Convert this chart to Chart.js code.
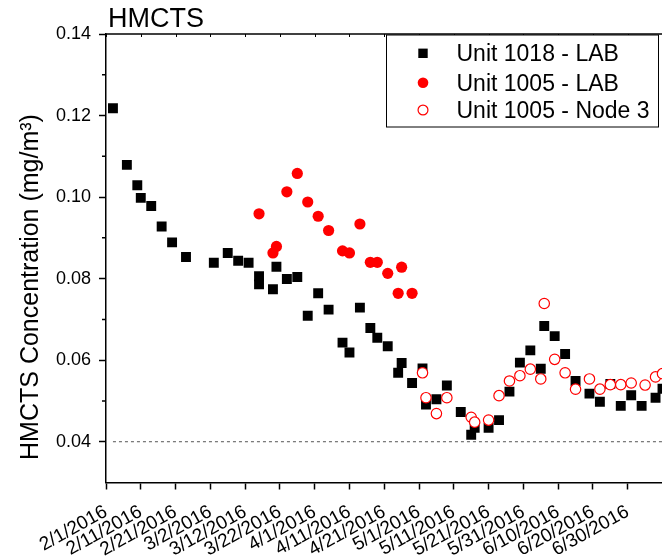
<!DOCTYPE html>
<html>
<head>
<meta charset="utf-8">
<script src="https://cdn.jsdelivr.net/npm/chart.js@4/dist/chart.umd.min.js"></script>
<style>
  html, body { margin: 0; padding: 0; overflow: hidden; background: #fff; }
  canvas { display: block; }
</style>
</head>
<body>
<canvas id="chart" width="680" height="560"></canvas>
<script>
// ---- text ----
const FONT = "'Liberation Sans', Arial, Helvetica, sans-serif";
const chartTitle = 'HMCTS';
const yAxisTitle = 'HMCTS Concentration (mg/m\u00B3)';
const seriesNames = ['Unit 1018 - LAB', 'Unit 1005 - LAB', 'Unit 1005 - Node 3'];

// ---- axes ----
const xStart = '2/1/2016';
const xEnd = '7/10/2016';
const xTickLabels = ['2/1/2016', '2/11/2016', '2/21/2016', '3/2/2016', '3/12/2016', '3/22/2016',
  '4/1/2016', '4/11/2016', '4/21/2016', '5/1/2016', '5/11/2016', '5/21/2016', '5/31/2016',
  '6/10/2016', '6/20/2016', '6/30/2016'];
const yMin = 0.03;
const yMax = 0.14;
const yTickLabels = ['0.04', '0.06', '0.08', '0.10', '0.12', '0.14'];
const yMinorTicks = [0.05, 0.07, 0.09, 0.11, 0.13];

// reference level (dotted line)
const refLevel = 0.04;
const refFrom = '2/3/2016';

// ---- series ----
const unit1018Dates = ['2/3/2016', '2/7/2016', '2/10/2016', '2/11/2016', '2/14/2016', '2/17/2016',
  '2/20/2016', '2/24/2016', '3/3/2016', '3/7/2016', '3/10/2016', '3/13/2016', '3/16/2016',
  '3/16/2016', '3/20/2016', '3/21/2016', '3/24/2016', '3/27/2016', '3/30/2016', '4/2/2016',
  '4/5/2016', '4/9/2016', '4/11/2016', '4/14/2016', '4/17/2016', '4/19/2016', '4/22/2016',
  '4/25/2016', '4/26/2016', '4/29/2016', '5/2/2016', '5/3/2016', '5/6/2016', '5/9/2016',
  '5/13/2016', '5/16/2016', '5/17/2016', '5/21/2016', '5/24/2016', '5/27/2016', '5/30/2016',
  '6/2/2016', '6/5/2016', '6/6/2016', '6/9/2016', '6/12/2016', '6/15/2016', '6/19/2016',
  '6/22/2016', '6/25/2016', '6/28/2016', '7/1/2016', '7/4/2016', '7/8/2016', '7/10/2016'];
const unit1018Values = [0.1218, 0.1079, 0.1029, 0.0998, 0.0978, 0.0928,
  0.0889, 0.0853, 0.0839, 0.0863, 0.0844, 0.0839, 0.0806,
  0.0786, 0.0774, 0.0829, 0.0799, 0.0804, 0.0709, 0.0764,
  0.0724, 0.0643, 0.0619, 0.0729, 0.0679, 0.0655, 0.0634,
  0.0569, 0.0593, 0.0544, 0.0580, 0.0491, 0.0504, 0.0538,
  0.0473, 0.0417, 0.0434, 0.0434, 0.0453, 0.0523, 0.0594,
  0.0624, 0.0579, 0.0684, 0.0659, 0.0615, 0.0549, 0.0518,
  0.0498, 0.0542, 0.0488, 0.0514, 0.0488, 0.0508, 0.0530];

const unit1005LabDates = ['3/16/2016', '3/20/2016', '3/21/2016', '3/24/2016', '3/27/2016',
  '3/30/2016', '4/2/2016', '4/5/2016', '4/9/2016', '4/11/2016', '4/14/2016', '4/17/2016',
  '4/19/2016', '4/22/2016', '4/25/2016', '4/26/2016', '4/29/2016'];
const unit1005LabValues = [0.0959, 0.0863, 0.0879, 0.1013, 0.1058,
  0.0988, 0.0953, 0.0918, 0.0868, 0.0863, 0.0934, 0.0840,
  0.0840, 0.0813, 0.0764, 0.0828, 0.0764];

const unit1005NodeDates = ['5/2/2016', '5/3/2016', '5/6/2016', '5/9/2016', '5/16/2016',
  '5/17/2016', '5/21/2016', '5/24/2016', '5/27/2016', '5/30/2016', '6/2/2016', '6/5/2016',
  '6/6/2016', '6/9/2016', '6/12/2016', '6/15/2016', '6/19/2016', '6/22/2016', '6/25/2016',
  '6/28/2016', '7/1/2016', '7/5/2016', '7/8/2016', '7/10/2016'];
const unit1005NodeValues = [0.0569, 0.0508, 0.0469, 0.0508, 0.0460,
  0.0448, 0.0453, 0.0513, 0.0549, 0.0562, 0.0578, 0.0554,
  0.0739, 0.0602, 0.0569, 0.0529, 0.0554, 0.0529, 0.0540,
  0.0540, 0.0544, 0.0539, 0.0559, 0.0567];

// ---- helpers ----
const DAY_MS = 86400000;
function toUTC(label) {
  const [m, d, y] = label.split('/').map(Number);
  return Date.UTC(y, m - 1, d);
}
const origin = toUTC(xStart);
function dayOf(label) { return (toUTC(label) - origin) / DAY_MS; }
function points(dates, values) {
  return dates.map((d, i) => ({ x: dayOf(d), y: values[i] }));
}

const datasets = [
  {
    label: seriesNames[0],
    data: points(unit1018Dates, unit1018Values),
    pointStyle: 'rect',
    pointRadius: 7,
    pointBackgroundColor: '#000000',
    pointBorderColor: '#000000',
    pointBorderWidth: 0,
    order: 1
  },
  {
    label: seriesNames[1],
    data: points(unit1005LabDates, unit1005LabValues),
    pointStyle: 'circle',
    pointRadius: 5.6,
    pointBackgroundColor: '#ff0000',
    pointBorderColor: '#ff0000',
    pointBorderWidth: 0,
    order: 2
  },
  {
    label: seriesNames[2],
    data: points(unit1005NodeDates, unit1005NodeValues),
    pointStyle: 'circle',
    pointRadius: 5.2,
    pointBackgroundColor: '#ffffff',
    pointBorderColor: '#ff0000',
    pointBorderWidth: 1.2,
    order: 0
  }
];

// axis frame extras, titles, reference line and boxed legend
const framePlugin = {
  id: 'frame',
  beforeDatasetsDraw(chart) {
    const { ctx, chartArea, scales: { x, y } } = chart;
    const yy = y.getPixelForValue(refLevel);
    ctx.save();
    ctx.strokeStyle = '#555555';
    ctx.lineWidth = 1;
    ctx.setLineDash([3, 3]);
    ctx.beginPath();
    ctx.moveTo(x.getPixelForValue(dayOf(refFrom)), yy);
    ctx.lineTo(chartArea.right, yy);
    ctx.stroke();
    ctx.restore();
  },
  afterDraw(chart) {
    const { ctx, chartArea, scales: { x, y } } = chart;
    ctx.save();
    // top axis with inward ticks
    ctx.strokeStyle = '#000';
    ctx.lineWidth = 1.5;
    ctx.beginPath();
    ctx.moveTo(chartArea.left, chartArea.top);
    ctx.lineTo(chartArea.right, chartArea.top);
    ctx.stroke();
    ctx.lineWidth = 1;
    ctx.beginPath();
    xTickLabels.forEach(l => {
      const px = Math.round(x.getPixelForValue(dayOf(l))) + 0.5;
      ctx.moveTo(px, chartArea.top);
      ctx.lineTo(px, chartArea.top + 3);
    });
    ctx.stroke();
    // minor y ticks
    ctx.lineWidth = 1.5;
    ctx.beginPath();
    yMinorTicks.forEach(v => {
      const py = y.getPixelForValue(v);
      ctx.moveTo(chartArea.left, py);
      ctx.lineTo(chartArea.left - 4, py);
    });
    ctx.stroke();

    // chart title
    ctx.fillStyle = '#000';
    ctx.font = '27px ' + FONT;
    ctx.textAlign = 'left';
    ctx.textBaseline = 'alphabetic';
    ctx.fillText(chartTitle, chartArea.left + 2, 27);

    // y axis title
    ctx.save();
    ctx.translate(31, 287);
    ctx.rotate(-Math.PI / 2);
    ctx.textAlign = 'center';
    ctx.textBaseline = 'middle';
    ctx.font = '25px ' + FONT;
    ctx.fillText(yAxisTitle, 0, 0);
    ctx.restore();

    // legend
    const bx = 386.5, by = chartArea.top + 1, bw = 272, bh = 92;
    ctx.fillStyle = '#fff';
    ctx.fillRect(bx, by, bw, bh);
    ctx.strokeStyle = '#000';
    ctx.lineWidth = 1;
    ctx.strokeRect(bx, by, bw, bh);
    const rows = [53.3, 82.7, 110];
    chart.data.datasets.forEach((ds, i) => {
      const cy = rows[i];
      ctx.fillStyle = ds.pointBackgroundColor;
      ctx.strokeStyle = ds.pointBorderColor;
      ctx.lineWidth = ds.pointBorderWidth;
      ctx.beginPath();
      if (ds.pointStyle === 'rect') {
        const s = ds.pointRadius * Math.SQRT1_2 * 0.95;
        ctx.rect(423 - s, cy - s, 2 * s, 2 * s);
      } else {
        ctx.arc(423, cy, ds.pointRadius * 0.95, 0, Math.PI * 2);
      }
      ctx.fill();
      if (ds.pointBorderWidth > 0) ctx.stroke();
      ctx.fillStyle = '#000';
      ctx.font = '23px ' + FONT;
      ctx.textAlign = 'left';
      ctx.textBaseline = 'alphabetic';
      ctx.fillText(ds.label, 456.5, cy + 7.8);
    });
    ctx.restore();
  }
};

new Chart(document.getElementById('chart'), {
  type: 'scatter',
  data: { datasets },
  options: {
    responsive: false,
    animation: false,
    events: [],
    layout: { padding: { top: 34, right: 17.5, left: 0, bottom: 0 } },
    plugins: {
      legend: { display: false },
      tooltip: { enabled: false },
      title: { display: false }
    },
    scales: {
      x: {
        type: 'linear',
        position: 'bottom',
        min: dayOf(xStart),
        max: dayOf(xEnd),
        afterBuildTicks: s => { s.ticks = xTickLabels.map(l => ({ value: dayOf(l) })); },
        afterFit: s => { s.height = 77.5; },
        ticks: {
          autoSkip: false,
          minRotation: 29,
          maxRotation: 29,
          padding: 11,
          color: '#000',
          font: { family: FONT, size: 19 },
          callback: (v, i) => xTickLabels[i]
        },
        grid: { drawOnChartArea: false, drawTicks: true, tickLength: 7, tickColor: '#000', tickWidth: 1.5 },
        border: { display: true, color: '#000', width: 1.5 }
      },
      y: {
        type: 'linear',
        min: yMin,
        max: yMax,
        afterBuildTicks: s => { s.ticks = yTickLabels.map(l => ({ value: parseFloat(l) })); },
        afterFit: s => { s.width = 106; },
        ticks: {
          padding: 8,
          color: '#000',
          font: { family: FONT, size: 18 },
          callback: (v, i) => yTickLabels[i]
        },
        grid: { drawOnChartArea: false, drawTicks: true, tickLength: 7, tickColor: '#000', tickWidth: 1.5 },
        border: { display: true, color: '#000', width: 1.5 }
      }
    }
  },
  plugins: [framePlugin]
});
</script>
</body>
</html>
